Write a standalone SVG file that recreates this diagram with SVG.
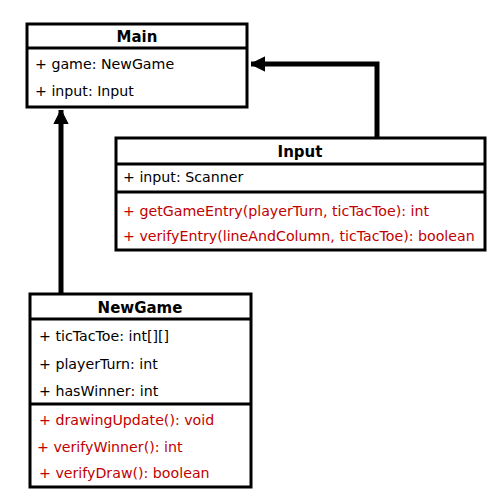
<svg xmlns="http://www.w3.org/2000/svg" width="500" height="500" viewBox="0 0 500 500">
<defs>
<style>
.box{fill:#fff;stroke:#000;stroke-width:3}
.div{stroke:#000;stroke-width:3}
.t{font-family:"DejaVu Sans",Verdana,sans-serif;font-size:14.2px;fill:#000}
.m{fill:#c00000}
.h{font-family:"DejaVu Sans",Verdana,sans-serif;font-size:15px;font-weight:bold;text-anchor:middle;fill:#000}
.c{fill:none;stroke:#000;stroke-width:5}
</style>
<marker id="arr" viewBox="0 0 10 10" refX="10" refY="5" markerWidth="2.8" markerHeight="4.4" orient="auto" markerUnits="strokeWidth">
<path d="M0,0 L10,5 L0,10 z" fill="#000" stroke="#000" stroke-width="0.8" stroke-linejoin="round"/>
</marker>
</defs>
<g id="connectors">
<path class="c" d="M61,294 V110" marker-end="url(#arr)"/>
<path class="c" d="M377,138 V64 H251" marker-end="url(#arr)"/>
</g>
<g id="Main">
<rect class="box" x="27" y="24" width="220" height="83"/>
<line class="div" x1="27" y1="48" x2="247" y2="48"/>
<text class="h" x="137" y="42">Main</text>
<text class="t" x="35" y="69">+ game: NewGame</text>
<text class="t" x="35" y="96">+ input: Input</text>
</g>
<g id="Input">
<rect class="box" x="116" y="138" width="369" height="112"/>
<line class="div" x1="116" y1="164" x2="485" y2="164"/>
<line class="div" x1="116" y1="192" x2="485" y2="192"/>
<text class="h" x="300" y="157">Input</text>
<text class="t" x="123" y="182">+ input: Scanner</text>
<text class="t m" x="123" y="216">+ getGameEntry(playerTurn, ticTacToe): int</text>
<text class="t m" x="123" y="241">+ verifyEntry(lineAndColumn, ticTacToe): boolean</text>
</g>
<g id="NewGame">
<rect class="box" x="30" y="294" width="221" height="193"/>
<line class="div" x1="30" y1="319" x2="251" y2="319"/>
<line class="div" x1="30" y1="404" x2="251" y2="404"/>
<text class="h" x="140" y="313">NewGame</text>
<text class="t" x="39" y="341">+ ticTacToe: int[][]</text>
<text class="t" x="39" y="369">+ playerTurn: int</text>
<text class="t" x="39" y="396">+ hasWinner: int</text>
<text class="t m" x="39" y="425">+ drawingUpdate(): void</text>
<text class="t m" x="37" y="452">+ verifyWinner(): int</text>
<text class="t m" x="39" y="478">+ verifyDraw(): boolean</text>
</g>
</svg>
